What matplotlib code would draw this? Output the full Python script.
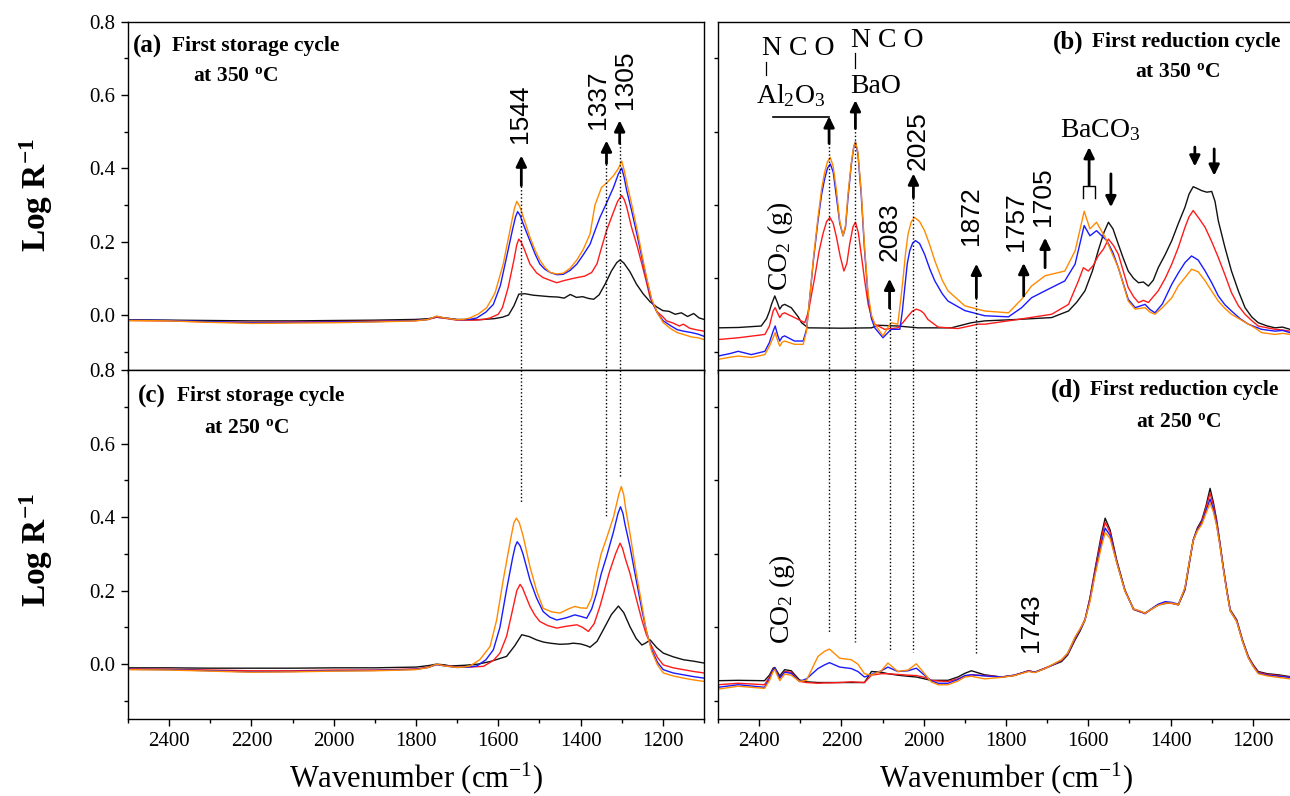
import matplotlib.pyplot as plt
from matplotlib.ticker import MultipleLocator, FormatStrFormatter

plt.rcParams['font.family'] = 'Liberation Serif'
plt.rcParams['mathtext.fontset'] = 'custom'
plt.rcParams['mathtext.rm'] = 'Liberation Serif'
plt.rcParams['mathtext.it'] = 'Liberation Serif:italic'
plt.rcParams['mathtext.bf'] = 'Liberation Serif:bold'

W, H = 1290, 796

# (wavenumber, log R^-1) readings for each spectrum
# (a) first storage cycle, 350 C
A_BLACK = [(2500, -0.013), (2400, -0.014), (2300, -0.015), (2200, -0.016), (2100, -0.016),
           (2000, -0.015), (1900, -0.014), (1800, -0.012), (1770, -0.010), (1750, -0.006),
           (1730, -0.008), (1700, -0.012), (1650, -0.013), (1610, -0.010), (1590, -0.006),
           (1575, 0.000), (1562, 0.025), (1550, 0.057), (1535, 0.058), (1515, 0.054),
           (1495, 0.052), (1475, 0.050), (1455, 0.049), (1440, 0.046), (1425, 0.056),
           (1410, 0.048), (1395, 0.050), (1380, 0.045), (1368, 0.043), (1355, 0.055),
           (1340, 0.085), (1325, 0.120), (1312, 0.143), (1304, 0.150), (1295, 0.142),
           (1280, 0.118), (1264, 0.084), (1248, 0.058), (1231, 0.036), (1215, 0.022),
           (1200, 0.012), (1185, 0.010), (1170, 0.002), (1155, 0.006), (1140, -0.004),
           (1125, 0.004), (1112, -0.008), (1100, -0.012)]
A_RED = [(2500, -0.015), (2400, -0.016), (2300, -0.019), (2200, -0.020), (2100, -0.019),
         (2000, -0.018), (1900, -0.017), (1800, -0.015), (1770, -0.012), (1750, -0.006),
         (1730, -0.009), (1700, -0.014), (1660, -0.014), (1635, -0.012), (1620, -0.008),
         (1600, 0.002), (1590, 0.020), (1576, 0.075), (1562, 0.150), (1555, 0.192),
         (1550, 0.207), (1544, 0.198), (1537, 0.180), (1523, 0.139), (1507, 0.115),
         (1491, 0.102), (1475, 0.095), (1458, 0.088), (1440, 0.094), (1425, 0.098),
         (1409, 0.102), (1390, 0.106), (1373, 0.116), (1360, 0.140), (1350, 0.180),
         (1337, 0.230), (1322, 0.275), (1310, 0.310), (1300, 0.326), (1294, 0.315),
         (1288, 0.295), (1276, 0.239), (1263, 0.190), (1251, 0.139), (1240, 0.090),
         (1231, 0.047), (1215, 0.010), (1200, -0.005), (1191, -0.016), (1175, -0.022),
         (1160, -0.030), (1150, -0.025), (1135, -0.036), (1120, -0.040), (1100, -0.044)]
A_BLUE = [(2500, -0.014), (2400, -0.015), (2300, -0.018), (2200, -0.021), (2100, -0.020),
          (2000, -0.019), (1900, -0.018), (1800, -0.015), (1770, -0.012), (1750, -0.004),
          (1730, -0.008), (1700, -0.013), (1670, -0.012), (1652, -0.008), (1630, 0.008),
          (1612, 0.029), (1595, 0.080), (1580, 0.157), (1565, 0.235), (1558, 0.268),
          (1553, 0.282), (1547, 0.272), (1540, 0.250), (1523, 0.202), (1510, 0.165),
          (1499, 0.139), (1487, 0.125), (1474, 0.116), (1458, 0.110), (1442, 0.111),
          (1425, 0.122), (1409, 0.139), (1393, 0.165), (1377, 0.193), (1365, 0.230),
          (1353, 0.266), (1337, 0.305), (1320, 0.348), (1308, 0.385), (1300, 0.401),
          (1294, 0.375), (1288, 0.340), (1276, 0.285), (1263, 0.220), (1251, 0.157),
          (1239, 0.095), (1227, 0.038), (1213, 0.005), (1199, -0.016), (1180, -0.030),
          (1165, -0.040), (1150, -0.044), (1130, -0.048), (1115, -0.052), (1100, -0.058)]
A_ORANGE = [(2500, -0.015), (2400, -0.016), (2300, -0.020), (2200, -0.023), (2100, -0.022),
            (2000, -0.021), (1900, -0.019), (1800, -0.016), (1770, -0.012), (1750, -0.003),
            (1730, -0.008), (1700, -0.013), (1685, -0.012), (1669, -0.008), (1648, 0.003),
            (1628, 0.020), (1608, 0.060), (1588, 0.139), (1570, 0.240), (1561, 0.290),
            (1555, 0.310), (1548, 0.296), (1540, 0.270), (1523, 0.212), (1510, 0.175),
            (1499, 0.150), (1487, 0.130), (1474, 0.116), (1458, 0.112), (1442, 0.114),
            (1425, 0.128), (1409, 0.150), (1393, 0.180), (1377, 0.221), (1365, 0.300),
            (1349, 0.348), (1335, 0.362), (1320, 0.380), (1308, 0.400), (1300, 0.420),
            (1294, 0.395), (1288, 0.362), (1276, 0.303), (1263, 0.235), (1251, 0.166),
            (1239, 0.100), (1227, 0.043), (1213, 0.005), (1199, -0.021), (1180, -0.038),
            (1165, -0.048), (1150, -0.053), (1130, -0.060), (1115, -0.062), (1100, -0.067)]

# (c) first storage cycle, 250 C
C_BLACK = [(2500, -0.010), (2400, -0.010), (2300, -0.011), (2200, -0.011), (2100, -0.011),
           (2000, -0.010), (1900, -0.010), (1800, -0.008), (1770, -0.004), (1750, 0.000),
           (1730, -0.002), (1717, -0.005), (1680, -0.003), (1650, 0.000), (1620, 0.007),
           (1600, 0.014), (1580, 0.021), (1560, 0.050), (1543, 0.080), (1525, 0.075),
           (1507, 0.066), (1490, 0.060), (1474, 0.057), (1450, 0.054), (1430, 0.055),
           (1418, 0.057), (1400, 0.055), (1385, 0.050), (1377, 0.046), (1360, 0.062),
           (1345, 0.093), (1325, 0.135), (1308, 0.158), (1295, 0.140), (1280, 0.102),
           (1265, 0.070), (1251, 0.052), (1241, 0.058), (1231, 0.066), (1215, 0.045),
           (1199, 0.030), (1175, 0.020), (1150, 0.012), (1125, 0.008), (1100, 0.003)]
C_RED = [(2500, -0.013), (2400, -0.014), (2300, -0.016), (2200, -0.018), (2100, -0.018),
         (2000, -0.016), (1900, -0.016), (1800, -0.013), (1770, -0.008), (1750, -0.001),
         (1730, -0.004), (1700, -0.008), (1670, -0.008), (1636, -0.006), (1612, 0.010),
         (1596, 0.030), (1580, 0.075), (1567, 0.139), (1555, 0.200), (1547, 0.217),
         (1541, 0.207), (1535, 0.190), (1523, 0.157), (1511, 0.133), (1499, 0.116),
         (1480, 0.105), (1458, 0.098), (1435, 0.103), (1409, 0.107), (1395, 0.100),
         (1381, 0.089), (1367, 0.110), (1353, 0.157), (1330, 0.250), (1315, 0.300),
         (1304, 0.329), (1298, 0.315), (1292, 0.290), (1280, 0.247), (1265, 0.180),
         (1251, 0.120), (1240, 0.080), (1227, 0.048), (1213, 0.018), (1199, -0.002),
         (1175, -0.010), (1150, -0.015), (1125, -0.020), (1100, -0.024)]
C_BLUE = [(2500, -0.014), (2400, -0.015), (2300, -0.018), (2200, -0.021), (2100, -0.020),
          (2000, -0.018), (1900, -0.017), (1800, -0.014), (1770, -0.009), (1750, -0.001),
          (1730, -0.005), (1700, -0.009), (1675, -0.008), (1652, -0.005), (1630, 0.012),
          (1612, 0.039), (1596, 0.100), (1580, 0.202), (1565, 0.290), (1559, 0.320),
          (1554, 0.333), (1547, 0.322), (1540, 0.300), (1523, 0.229), (1507, 0.180),
          (1491, 0.143), (1475, 0.128), (1458, 0.120), (1435, 0.126), (1414, 0.134),
          (1400, 0.130), (1385, 0.125), (1373, 0.150), (1361, 0.193), (1350, 0.245),
          (1337, 0.292), (1320, 0.360), (1309, 0.410), (1303, 0.428), (1297, 0.410),
          (1292, 0.380), (1280, 0.320), (1265, 0.230), (1251, 0.148), (1240, 0.090),
          (1227, 0.039), (1213, 0.005), (1199, -0.015), (1175, -0.024), (1150, -0.029),
          (1125, -0.034), (1100, -0.038)]
C_ORANGE = [(2500, -0.015), (2400, -0.016), (2300, -0.019), (2200, -0.022), (2100, -0.021),
            (2000, -0.019), (1900, -0.018), (1800, -0.015), (1770, -0.009), (1750, 0.000),
            (1730, -0.005), (1700, -0.009), (1685, -0.008), (1669, -0.005), (1645, 0.012),
            (1620, 0.048), (1604, 0.120), (1588, 0.229), (1570, 0.340), (1562, 0.385),
            (1556, 0.397), (1549, 0.385), (1540, 0.350), (1523, 0.265), (1507, 0.200),
            (1491, 0.152), (1470, 0.142), (1450, 0.139), (1430, 0.150), (1414, 0.157),
            (1400, 0.153), (1385, 0.152), (1373, 0.180), (1361, 0.247), (1350, 0.300),
            (1337, 0.342), (1320, 0.400), (1307, 0.462), (1301, 0.483), (1295, 0.460),
            (1290, 0.420), (1280, 0.356), (1265, 0.250), (1251, 0.161), (1240, 0.090),
            (1227, 0.034), (1213, -0.002), (1199, -0.024), (1175, -0.032), (1150, -0.038),
            (1125, -0.043), (1100, -0.047)]

# (b) first reduction cycle, 350 C
B_BLACK = [(2500, -0.035), (2450, -0.034), (2395, -0.030), (2382, -0.010), (2375, 0.010),
           (2370, 0.029), (2362, 0.052), (2356, 0.035), (2350, 0.016), (2344, 0.026),
           (2338, 0.029), (2322, 0.020), (2305, -0.005), (2297, -0.021), (2281, -0.035),
           (2200, -0.036), (2127, -0.035), (2111, -0.028), (2063, -0.030), (2014, -0.035),
           (1933, -0.035), (1884, -0.021), (1851, -0.016), (1770, -0.012), (1689, -0.007),
           (1648, 0.011), (1628, 0.035), (1608, 0.066), (1590, 0.120), (1576, 0.175),
           (1562, 0.225), (1551, 0.253), (1540, 0.235), (1527, 0.193), (1515, 0.155),
           (1503, 0.120), (1490, 0.100), (1478, 0.088), (1466, 0.090), (1454, 0.079),
           (1442, 0.095), (1430, 0.129), (1413, 0.165), (1397, 0.203), (1381, 0.250),
           (1365, 0.294), (1355, 0.330), (1345, 0.350), (1335, 0.345), (1324, 0.339),
           (1312, 0.335), (1300, 0.337), (1292, 0.310), (1284, 0.257), (1268, 0.185),
           (1252, 0.120), (1235, 0.065), (1219, 0.020), (1203, -0.005), (1187, -0.021),
           (1165, -0.030), (1146, -0.035), (1128, -0.033), (1110, -0.039), (1100, -0.040)]
B_RED = [(2500, -0.067), (2450, -0.062), (2386, -0.053), (2375, -0.030), (2366, 0.011),
         (2361, 0.020), (2355, 0.005), (2350, -0.007), (2344, 0.003), (2338, 0.006),
         (2314, -0.007), (2289, -0.021), (2280, 0.010), (2272, 0.060), (2265, 0.102),
         (2255, 0.170), (2245, 0.221), (2236, 0.255), (2228, 0.266), (2220, 0.250),
         (2212, 0.212), (2203, 0.160), (2194, 0.120), (2187, 0.140), (2180, 0.193),
         (2172, 0.240), (2166, 0.253), (2159, 0.225), (2152, 0.166), (2143, 0.090),
         (2135, 0.029), (2127, -0.005), (2119, -0.025), (2095, -0.039), (2063, -0.035),
         (2050, -0.020), (2038, -0.003), (2028, 0.010), (2018, 0.016), (2008, 0.012),
         (2000, 0.005), (1990, -0.012), (1965, -0.033), (1917, -0.037), (1868, -0.025),
         (1851, -0.025), (1770, -0.012), (1689, 0.002), (1648, 0.029), (1624, 0.093),
         (1612, 0.129), (1600, 0.120), (1588, 0.135), (1576, 0.161), (1563, 0.180),
         (1551, 0.207), (1539, 0.190), (1527, 0.166), (1515, 0.120), (1503, 0.075),
         (1490, 0.050), (1478, 0.034), (1466, 0.040), (1454, 0.034), (1442, 0.050),
         (1430, 0.066), (1413, 0.100), (1397, 0.139), (1381, 0.185), (1365, 0.239),
         (1355, 0.268), (1345, 0.285), (1330, 0.262), (1316, 0.239), (1300, 0.200),
         (1284, 0.157), (1268, 0.110), (1252, 0.061), (1235, 0.025), (1219, 0.002),
         (1203, -0.015), (1187, -0.030), (1165, -0.035), (1146, -0.039), (1128, -0.041),
         (1110, -0.044), (1100, -0.045)]
B_BLUE = [(2500, -0.112), (2470, -0.105), (2451, -0.099), (2419, -0.108), (2386, -0.099),
          (2375, -0.075), (2366, -0.044), (2361, -0.030), (2355, -0.055), (2350, -0.071),
          (2344, -0.060), (2338, -0.057), (2314, -0.071), (2293, -0.071), (2285, -0.040),
          (2277, 0.047), (2268, 0.150), (2257, 0.257), (2248, 0.330), (2241, 0.370),
          (2234, 0.400), (2227, 0.412), (2220, 0.390), (2212, 0.321), (2204, 0.250),
          (2196, 0.216), (2190, 0.240), (2184, 0.320), (2176, 0.410), (2170, 0.458),
          (2166, 0.472), (2160, 0.440), (2152, 0.330), (2144, 0.180), (2135, 0.047),
          (2127, -0.010), (2119, -0.035), (2099, -0.062), (2079, -0.039), (2058, -0.039),
          (2052, 0.010), (2046, 0.075), (2040, 0.140), (2034, 0.175), (2027, 0.196),
          (2020, 0.203), (2010, 0.195), (1998, 0.166), (1985, 0.125), (1973, 0.093),
          (1955, 0.058), (1941, 0.038), (1900, 0.012), (1852, -0.002), (1794, -0.005),
          (1762, 0.020), (1738, 0.047), (1705, 0.066), (1657, 0.093), (1632, 0.139),
          (1610, 0.244), (1596, 0.216), (1580, 0.230), (1555, 0.203), (1540, 0.170),
          (1527, 0.129), (1503, 0.043), (1486, 0.020), (1462, 0.029), (1450, 0.015),
          (1438, 0.006), (1420, 0.030), (1397, 0.084), (1381, 0.115), (1365, 0.143),
          (1349, 0.161), (1333, 0.150), (1316, 0.120), (1300, 0.088), (1284, 0.052),
          (1268, 0.028), (1252, 0.011), (1231, -0.010), (1211, -0.025), (1195, -0.032),
          (1179, -0.039), (1146, -0.044), (1128, -0.042), (1110, -0.048), (1100, -0.050)]
B_ORANGE = [(2500, -0.121), (2470, -0.115), (2451, -0.112), (2419, -0.116), (2386, -0.108),
            (2375, -0.085), (2366, -0.062), (2361, -0.048), (2355, -0.070), (2350, -0.085),
            (2344, -0.074), (2338, -0.071), (2314, -0.080), (2293, -0.080), (2285, -0.045),
            (2277, 0.047), (2268, 0.155), (2257, 0.266), (2248, 0.345), (2241, 0.388),
            (2234, 0.418), (2227, 0.430), (2220, 0.405), (2212, 0.339), (2204, 0.255),
            (2196, 0.216), (2190, 0.245), (2184, 0.330), (2176, 0.415), (2170, 0.460),
            (2166, 0.472), (2160, 0.445), (2152, 0.340), (2144, 0.190), (2135, 0.057),
            (2127, 0.000), (2119, -0.025), (2099, -0.057), (2085, -0.030), (2079, -0.021),
            (2063, -0.025), (2056, 0.040), (2050, 0.102), (2044, 0.170), (2038, 0.221),
            (2030, 0.255), (2022, 0.266), (2010, 0.255), (1998, 0.230), (1985, 0.190),
            (1973, 0.148), (1955, 0.095), (1941, 0.066), (1900, 0.025), (1852, 0.011),
            (1794, 0.006), (1762, 0.043), (1738, 0.079), (1705, 0.107), (1657, 0.120),
            (1632, 0.175), (1610, 0.283), (1596, 0.235), (1580, 0.253), (1559, 0.212),
            (1545, 0.175), (1527, 0.129), (1503, 0.038), (1486, 0.016), (1462, 0.020),
            (1450, 0.008), (1438, 0.002), (1420, 0.020), (1397, 0.047), (1381, 0.080),
            (1365, 0.102), (1349, 0.125), (1333, 0.118), (1316, 0.093), (1300, 0.065),
            (1284, 0.038), (1268, 0.018), (1252, 0.002), (1231, -0.012), (1211, -0.025),
            (1195, -0.035), (1179, -0.048), (1146, -0.053), (1128, -0.050), (1110, -0.053),
            (1100, -0.055)]

# (d) first reduction cycle, 250 C -- one wavenumber grid for all four spectra
WN_D = [2500, 2451, 2387, 2375, 2366, 2362, 2350, 2338, 2322, 2302,
        2285, 2257, 2241, 2229, 2204, 2176, 2160, 2144, 2127, 2103,
        2087, 2063, 2038, 2018, 1998, 1982, 1965, 1941, 1917, 1900,
        1884, 1852, 1811, 1780, 1745, 1730, 1705, 1685, 1665, 1650,
        1632, 1620, 1608, 1596, 1584, 1569, 1559, 1547, 1531, 1511,
        1490, 1475, 1462, 1446, 1430, 1413, 1397, 1381, 1365, 1355,
        1345, 1335, 1324, 1314, 1304, 1296, 1288, 1280, 1272, 1263,
        1255, 1239, 1225, 1211, 1199, 1187, 1165, 1138, 1110, 1100]
D_BLACK = [-0.045, -0.044, -0.045, -0.030, -0.011, -0.009, -0.032, -0.015, -0.018, -0.043,
           -0.048, -0.050, -0.050, -0.050, -0.050, -0.050, -0.050, -0.050, -0.020, -0.022,
           -0.026, -0.030, -0.033, -0.035, -0.040, -0.044, -0.044, -0.044, -0.035, -0.025,
           -0.018, -0.029, -0.035, -0.031, -0.018, -0.022, -0.011, -0.002, 0.007, 0.025,
           0.066, 0.090, 0.120, 0.180, 0.256, 0.347, 0.397, 0.365, 0.283, 0.202,
           0.149, 0.143, 0.139, 0.150, 0.161, 0.165, 0.166, 0.161, 0.202, 0.270,
           0.338, 0.370, 0.392, 0.430, 0.478, 0.440, 0.392, 0.330, 0.265, 0.200,
           0.148, 0.120, 0.065, 0.021, -0.002, -0.020, -0.026, -0.029, -0.034, -0.036]
D_RED = [-0.056, -0.052, -0.056, -0.035, -0.015, -0.011, -0.038, -0.020, -0.022, -0.047,
         -0.050, -0.052, -0.051, -0.051, -0.050, -0.048, -0.049, -0.050, -0.030, -0.026,
         -0.026, -0.028, -0.030, -0.031, -0.036, -0.044, -0.046, -0.047, -0.040, -0.033,
         -0.029, -0.031, -0.035, -0.030, -0.018, -0.022, -0.011, -0.001, 0.010, 0.028,
         0.070, 0.094, 0.122, 0.178, 0.252, 0.338, 0.386, 0.358, 0.280, 0.200,
         0.149, 0.143, 0.138, 0.150, 0.162, 0.168, 0.165, 0.162, 0.205, 0.272,
         0.336, 0.366, 0.388, 0.425, 0.465, 0.432, 0.387, 0.328, 0.263, 0.198,
         0.146, 0.118, 0.063, 0.019, -0.004, -0.022, -0.028, -0.031, -0.036, -0.038]
D_BLUE = [-0.063, -0.056, -0.063, -0.040, -0.015, -0.011, -0.038, -0.022, -0.025, -0.047,
          -0.040, -0.012, -0.002, 0.004, -0.008, -0.012, -0.020, -0.035, -0.028, -0.018,
          -0.008, -0.020, -0.018, -0.011, -0.030, -0.045, -0.052, -0.052, -0.042, -0.031,
          -0.029, -0.032, -0.035, -0.030, -0.019, -0.022, -0.012, -0.001, 0.011, 0.029,
          0.072, 0.094, 0.120, 0.174, 0.245, 0.325, 0.370, 0.350, 0.278, 0.200,
          0.150, 0.144, 0.137, 0.151, 0.163, 0.170, 0.168, 0.163, 0.206, 0.274,
          0.336, 0.364, 0.384, 0.416, 0.449, 0.422, 0.380, 0.324, 0.262, 0.196,
          0.145, 0.116, 0.062, 0.018, -0.006, -0.024, -0.030, -0.033, -0.036, -0.039]
D_ORANGE = [-0.068, -0.060, -0.066, -0.045, -0.020, -0.015, -0.045, -0.027, -0.030, -0.047,
            -0.044, 0.021, 0.035, 0.041, 0.016, 0.012, 0.000, -0.026, -0.030, -0.018,
            0.003, -0.020, -0.016, 0.001, -0.026, -0.048, -0.056, -0.056, -0.046, -0.035,
            -0.033, -0.040, -0.036, -0.031, -0.020, -0.023, -0.012, 0.000, 0.012, 0.030,
            0.074, 0.096, 0.120, 0.170, 0.240, 0.315, 0.358, 0.342, 0.276, 0.199,
            0.150, 0.145, 0.138, 0.150, 0.160, 0.166, 0.166, 0.162, 0.208, 0.275,
            0.336, 0.362, 0.380, 0.410, 0.438, 0.414, 0.376, 0.322, 0.260, 0.195,
            0.145, 0.115, 0.061, 0.017, -0.007, -0.026, -0.032, -0.036, -0.040, -0.042]

# band positions marked by dotted guide lines
STORAGE_BANDS = [1544, 1337, 1305]
REDUCTION_BANDS = [2230, 2166, 2083, 2025, 1872]

COLORS = ['#111111', '#ff1a1a', '#1a1aff', '#ff8a00']

NARROW = ['Liberation Sans Narrow', 'Liberation Sans']
DOTS = (0, (1, 1.6))


def px(x, y):
    return x / W, 1 - y / H


def make_axes(x0, top, bottom, show_x, show_y):
    ax = fig.add_axes([x0 / W, 1 - bottom / H, 576 / W, (bottom - top) / H])
    ax.set_xlim(2500, 1100)
    ax.set_ylim(-0.15, 0.8)
    for s in ax.spines.values():
        s.set_linewidth(1.0)
    ax.xaxis.set_major_locator(MultipleLocator(200))
    ax.xaxis.set_minor_locator(MultipleLocator(100))
    ax.yaxis.set_major_locator(MultipleLocator(0.2))
    ax.yaxis.set_minor_locator(MultipleLocator(0.1))
    ax.yaxis.set_major_formatter(FormatStrFormatter('%.1f'))
    ax.tick_params(which='both', direction='out', labelsize=15, width=1.0, pad=4)
    ax.tick_params(which='major', length=5)
    ax.tick_params(which='minor', length=3)
    ax.tick_params(axis='x', bottom=show_x, labelbottom=show_x)
    ax.tick_params(axis='y', left=show_y, labelleft=show_y)
    return ax


def draw(ax, curves):
    for pts, c in zip(curves, COLORS):
        wn, val = zip(*pts)
        ax.plot(wn, val, color=c, lw=1.0)


def arrow(ax, x, y0, y1):
    ax.annotate('', xy=(x, y1), xytext=(x, y0),
                arrowprops=dict(arrowstyle='-|>,head_length=0.45,head_width=0.22',
                                color='k', lw=2.0, shrinkA=0, shrinkB=0,
                                mutation_scale=14))


def num(ax, x, y, s):
    ax.text(x, y, s, rotation=90, ha='center', va='center',
            fontfamily=NARROW, fontsize=19)


fig = plt.figure(figsize=(W / 100, H / 100), dpi=100)

ax_a = make_axes(128, 21.7, 370, False, True)
ax_c = make_axes(128, 370, 719.3, True, True)
ax_b = make_axes(718, 21.7, 370, False, False)
ax_d = make_axes(718, 370, 719.3, True, False)

draw(ax_a, [A_BLACK, A_RED, A_BLUE, A_ORANGE])
draw(ax_c, [C_BLACK, C_RED, C_BLUE, C_ORANGE])
draw(ax_b, [B_BLACK, B_RED, B_BLUE, B_ORANGE])
draw(ax_d, [list(zip(WN_D, v)) for v in (D_BLACK, D_RED, D_BLUE, D_ORANGE)])

# dotted guides running from the upper panel into the lower one
for x, top_a, low_c in zip(STORAGE_BANDS, [0.353, 0.413, 0.468], [0.44, 0.40, 0.51]):
    ax_a.plot([x, x], [top_a, -0.15], color='k', lw=1.0, ls=DOTS)
    ax_c.plot([x, x], [0.8, low_c], color='k', lw=1.0, ls=DOTS)
for x, top_b, low_d in zip(REDUCTION_BANDS, [0.468, 0.509, 0.019, 0.320, 0.047],
                           [0.084, 0.061, 0.039, 0.034, 0.025]):
    ax_b.plot([x, x], [top_b, -0.15], color='k', lw=1.0, ls=DOTS)
    ax_d.plot([x, x], [0.8, low_d], color='k', lw=1.0, ls=DOTS)

# (a) annotations
for x, y0, y1 in [(1544, 0.353, 0.435), (1337, 0.413, 0.476), (1305, 0.468, 0.531)]:
    arrow(ax_a, x, y0, y1)
num(ax_a, 1547, 0.550, '1544')
num(ax_a, 1358, 0.586, '1337')
num(ax_a, 1292, 0.643, '1305')

# (b) annotations
for x, y0, y1 in [(2230, 0.468, 0.542), (2166, 0.509, 0.586), (2083, 0.019, 0.099),
                  (2025, 0.320, 0.386), (1872, 0.047, 0.140), (1757, 0.052, 0.142),
                  (1705, 0.129, 0.211), (1598, 0.353, 0.458),
                  (1545, 0.385, 0.294), (1341, 0.458, 0.405), (1294, 0.453, 0.380)]:
    arrow(ax_b, x, y0, y1)
num(ax_b, 2082, 0.227, '2083')
num(ax_b, 2015, 0.475, '2025')
num(ax_b, 1884, 0.270, '1872')
num(ax_b, 1776, 0.255, '1757')
num(ax_b, 1710, 0.323, '1705')
ax_b.text(2349, 0.186, 'CO$_2$ (g)', rotation=90, ha='center', va='center', fontsize=20)
ax_b.text(2393, 0.709, 'N C O', ha='left', va='baseline', fontsize=20)
ax_b.plot([2384, 2384], [0.690, 0.654], color='k', lw=0.9)
ax_b.text(2408, 0.577, 'Al$_2$O$_3$', ha='left', va='baseline', fontsize=20)
ax_b.plot([2366, 2230], [0.540, 0.540], color='k', lw=1.2)
ax_b.text(2176, 0.732, 'N C O', ha='left', va='baseline', fontsize=20)
ax_b.plot([2167, 2167], [0.714, 0.673], color='k', lw=0.9)
ax_b.text(2179, 0.606, 'BaO', ha='left', va='baseline', fontsize=20)
ax_b.text(1669, 0.485, 'BaCO$_3$', ha='left', va='baseline', fontsize=20)
ax_b.plot([1614, 1614, 1584, 1584], [0.319, 0.353, 0.353, 0.319], color='k', lw=1.0)

# (d) annotations
ax_d.text(2344, 0.175, 'CO$_2$ (g)', rotation=90, ha='center', va='center', fontsize=20)
num(ax_d, 1739, 0.112, '1743')

# panel titles
for (x0, y0), tag, title, (x1, y1), temp in [
        ((133, 46), '(a)', 'First storage cycle', (193, 76), '350'),
        ((138, 396), '(c)', 'First storage cycle', (204, 428), '250'),
        ((1053, 42), '(b)', 'First reduction cycle', (1135, 72), '350'),
        ((1051, 390), '(d)', 'First reduction cycle', (1136, 422), '250')]:
    fig.text(*px(x0, y0), tag, fontsize=18, fontweight='bold', va='center')
    fig.text(*px(x0 + 39, y0), title, fontsize=15.5, fontweight='bold', va='center')
    fig.text(*px(x1, y1), 'at ' + temp + r' $^{\mathbf{o}}$C', fontsize=15.5,
             fontweight='bold', va='center')

# axis titles
for yc in (195, 550):
    fig.text(*px(36, yc), r'Log R$^{\mathbf{-1}}$', rotation=90, fontsize=24,
             fontweight='bold', ha='center', va='center')
for xc in (416, 1006):
    fig.text(*px(xc, 778), 'Wavenumber (cm$^{-1}$)', fontsize=22, ha='center', va='center')

fig.savefig('out.png', dpi=100)
